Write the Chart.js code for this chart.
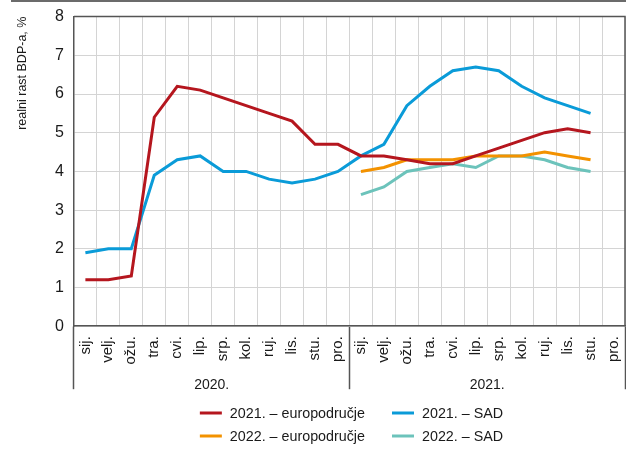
<!DOCTYPE html>
<html lang="hr">
<head>
  <meta charset="UTF-8" />
  <title>Realni rast BDP-a</title>
  <script src="https://cdn.jsdelivr.net/npm/chart.js"></script>
  <style>
    html, body {
      margin: 0;
      padding: 0;
      background: #ffffff;
    }
    .okvir {
      position: relative;
      width: 626px;
      height: 452px;
    }
    .crta {
      position: absolute;
      left: 11px;
      right: 0;
      top: 0;
      height: 2px;
      background: #6b6b6b;
    }
    canvas {
      position: absolute;
      left: 0;
      top: 2px;
    }
  </style>
</head>
<body>
  <div class="okvir">
    <div class="crta"></div>
    <canvas id="grafikon" width="626" height="450"></canvas>
  </div>

  <script>
    // kategorije
    const mjeseci = [
      'sij.', 'velj.', 'ožu.', 'tra.', 'cvi.', 'lip.', 'srp.', 'kol.', 'ruj.', 'lis.', 'stu.', 'pro.',
      'sij.', 'velj.', 'ožu.', 'tra.', 'cvi.', 'lip.', 'srp.', 'kol.', 'ruj.', 'lis.', 'stu.', 'pro.'
    ];
    const godine = ['2020.', '2021.'];

    // prognoze rasta (%), po mjesecu objave
    const euro2021 = [1.2, 1.2, 1.3, 5.4, 6.2, 6.1, 5.9, 5.7, 5.5, 5.3, 4.7, 4.7,
                      4.4, 4.4, 4.3, 4.2, 4.2, 4.4, 4.6, 4.8, 5.0, 5.1, 5.0, null];
    const sad2021 = [1.9, 2.0, 2.0, 3.9, 4.3, 4.4, 4.0, 4.0, 3.8, 3.7, 3.8, 4.0,
                     4.4, 4.7, 5.7, 6.2, 6.6, 6.7, 6.6, 6.2, 5.9, 5.7, 5.5, null];
    const euro2022 = [null, null, null, null, null, null, null, null, null, null, null, null,
                      4.0, 4.1, 4.3, 4.3, 4.3, 4.4, 4.4, 4.4, 4.5, 4.4, 4.3, null];
    const sad2022 = [null, null, null, null, null, null, null, null, null, null, null, null,
                     3.4, 3.6, 4.0, 4.1, 4.2, 4.1, 4.4, 4.4, 4.3, 4.1, 4.0, null];

    const FONT = "'Liberation Sans', Arial, sans-serif";
    const tamna = '#555555';
    const mreza = '#d4d4d4';

    Chart.defaults.font.family = FONT;
    Chart.defaults.font.size = 15;
    Chart.defaults.color = '#1a1a1a';

    function serija(label, data, boja) {
      return {
        label: label,
        data: data,
        borderColor: boja,
        backgroundColor: boja,
        borderWidth: 3,
        pointRadius: 0,
        pointHoverRadius: 0,
        tension: 0,
        fill: false
      };
    }

    // okvir oko područja grafikona (gore i desno)
    const okvir = {
      id: 'okvir',
      beforeDatasetsDraw(chart) {
        const { ctx, chartArea: a } = chart;
        ctx.save();
        ctx.strokeStyle = tamna;
        ctx.lineWidth = 1.5;
        ctx.beginPath();
        ctx.moveTo(a.left, a.top);
        ctx.lineTo(a.right, a.top);
        ctx.lineTo(a.right, a.bottom);
        ctx.stroke();
        ctx.restore();
      }
    };

    // legenda u dva stupca
    const legenda = {
      id: 'legenda',
      afterDraw(chart) {
        const { ctx, chartArea } = chart;
        const ds = chart.data.datasets;
        const duzina = 22, razmak = 8, stupci = 27;
        ctx.save();
        ctx.font = '14.3px ' + FONT;
        const w = ds.map(d => duzina + razmak + ctx.measureText(d.label).width);
        const s1 = Math.max(w[0], w[2]);
        const s2 = Math.max(w[1], w[3]);
        const x0 = (chartArea.left + chartArea.right) / 2 - (s1 + stupci + s2) / 2 + 2;
        const redovi = [chart.height - 39, chart.height - 16];
        ds.forEach((d, i) => {
          const x = i % 2 === 0 ? x0 : x0 + s1 + stupci;
          const y = redovi[Math.floor(i / 2)];
          ctx.strokeStyle = d.borderColor;
          ctx.lineWidth = 3;
          ctx.beginPath();
          ctx.moveTo(x, y);
          ctx.lineTo(x + duzina, y);
          ctx.stroke();
          ctx.fillStyle = '#1a1a1a';
          ctx.textBaseline = 'middle';
          ctx.fillText(d.label, x + duzina + razmak, y + 1);
        });
        ctx.restore();
      }
    };

    new Chart(document.getElementById('grafikon'), {
      type: 'line',
      data: {
        labels: mjeseci,
        datasets: [
          serija('2021. – europodručje', euro2021, '#b5161e'),
          serija('2021. – SAD', sad2021, '#0a9bd8'),
          serija('2022. – europodručje', euro2022, '#f39200'),
          serija('2022. – SAD', sad2022, '#6cc3bb')
        ]
      },
      options: {
        responsive: false,
        animation: false,
        layout: { padding: { top: 1, right: 1, bottom: 53, left: 0 } },
        plugins: {
          legend: { display: false },
          tooltip: { enabled: false }
        },
        scales: {
          x: {
            offset: true,
            grid: {
              offset: true,
              color: mreza,
              tickLength: 63,
              tickWidth: 1.5,
              tickColor: c => (c.index === undefined || c.index % 12 === 0) ? tamna : 'rgba(0,0,0,0)'
            },
            border: { color: tamna, width: 1.5 },
            ticks: { autoSkip: false, minRotation: 90, maxRotation: 90, padding: -53 },
            afterFit: s => { s.height = 38; }
          },
          x2: {
            type: 'category',
            labels: godine,
            position: 'bottom',
            offset: true,
            weight: 1,
            grid: { display: false },
            border: { display: false },
            ticks: { padding: 5, font: { size: 14 } }
          },
          y: {
            min: 0,
            max: 8,
            ticks: { stepSize: 1, padding: 5, font: { size: 16 } },
            grid: { color: mreza, drawTicks: true, tickLength: 5, tickColor: 'rgba(0,0,0,0)' },
            border: { color: tamna, width: 1.5 },
            title: {
              display: true,
              text: 'realni rast BDP-a, %',
              align: 'end',
              font: { size: 12.5 },
              padding: { top: 15, bottom: 20 }
            }
          }
        }
      },
      plugins: [okvir, legenda]
    });
  </script>
</body>
</html>
